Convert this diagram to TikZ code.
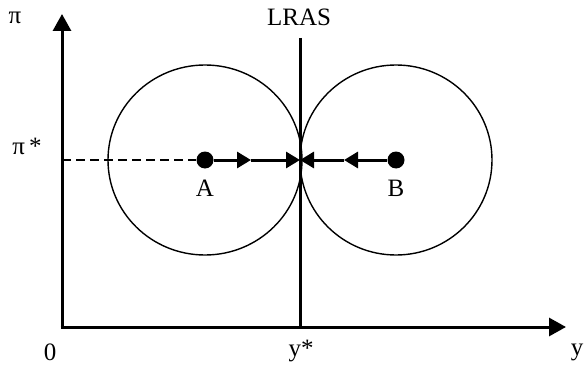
\documentclass[tikz,border=0pt]{standalone}
\usepackage{fontspec}
\setmainfont{Liberation Serif}
\usetikzlibrary{arrows.meta}
\begin{document}
\begin{tikzpicture}[x=1pt,y=-1pt,
  axis/.style={line width=3pt,-{Triangle[length=17pt,width=18pt]}},
  flow/.style={line width=3pt,-{Triangle[length=14pt,width=16pt]}},
  dot/.style={circle,fill=black,inner sep=0pt,minimum size=17pt},
  lbl/.style={inner sep=0pt,font=\fontsize{25}{28}\selectfont},
  curve/.style={line width=1.4pt}]
\useasboundingbox (0,0) rectangle (584,369);
\coordinate (O) at (62,327);
\coordinate (ytop) at (62,14);
\coordinate (xend) at (566,327);
\coordinate (Ltop) at (300,38);
\coordinate (Lbot) at (300,327);
\coordinate (C) at (300,160);
\coordinate (ma) at (251,160);
\coordinate (mb) at (344,160);
\coordinate (P) at (62,160);
% ellipses
\draw[curve] (205,160) ellipse [x radius=97, y radius=95];
\draw[curve] (396,160) ellipse [x radius=96, y radius=95];
% axes
\draw[line width=3pt] (Ltop) -- (Lbot);
\draw[axis] (O) -- (ytop);
\draw[axis] ([xshift=-1.5pt]O) -- (xend);
% dots
\node[dot] (A) at (205,160) {};
\node[dot] (B) at (396,160) {};
\draw[line width=2.5pt,dashed,dash pattern=on 9pt off 5pt] (P) -- (A);
\draw[flow] (A) -- (ma);
\draw[flow] (ma) -- (C);
\draw[flow] (B) -- (mb);
\draw[flow] (mb) -- (C);
% labels
\node[lbl] (pi) at (15,18) {π};
\node[lbl] (pistar) at (27,146) {π\,*};
\node[lbl] (la) at (205,188) {A};
\node[lbl] (lb) at (396,188) {B};
\node[lbl] (lras) at (299,17) {LRAS};
\node[lbl] (zero) at (50,352) {0};
\node[lbl] (ystar) at (301,351) {y*};
\node[lbl] (y) at (577,352) {y};
\end{tikzpicture}
\end{document}
